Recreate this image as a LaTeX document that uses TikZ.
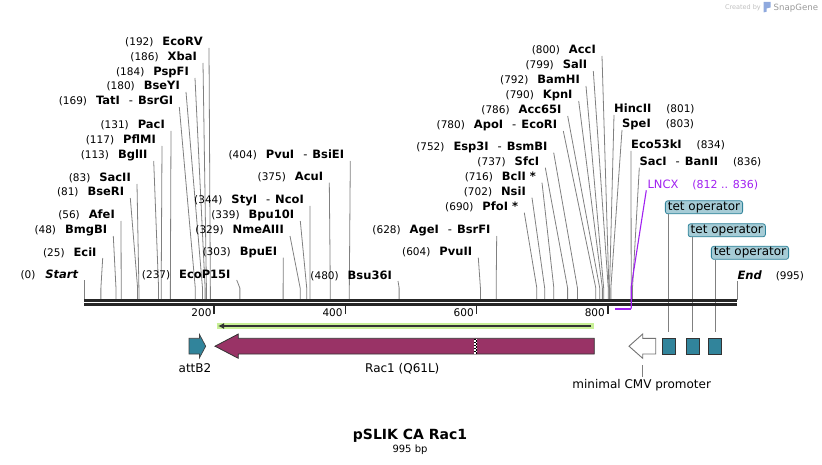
\documentclass[tikz,border=0pt]{standalone}
\usepackage{fontspec}
\setmainfont{DejaVu Sans}
\usetikzlibrary{calc,arrows.meta}
\definecolor{sitegray}{RGB}{128,128,128}
\definecolor{racfill}{RGB}{153,51,102}
\definecolor{tealfill}{RGB}{49,132,155}
\definecolor{tetlbl}{RGB}{166,204,214}
\definecolor{orfgreen}{RGB}{200,240,150}
\definecolor{lncx}{RGB}{160,32,240}
\newcommand{\enzname}[1]{{\fontsize{11.5}{13}\selectfont\bfseries #1}}
\newcommand{\andsite}{{\mdseries\hspace{9pt}-\hspace{5pt}}}

\begin{document}
\begin{tikzpicture}[x=1pt, y=-1pt,
  sitelbl/.style={inner sep=0pt, font=\fontsize{10.5}{12}\selectfont},
  siteline/.style={draw=sitegray, line width=0.8pt},
  featlbl/.style={inner sep=0pt, font=\fontsize{12}{14}\selectfont},
  tetbox/.style={draw=tealfill, fill=tetlbl, rounded corners=2.5pt, line width=0.8pt,
    inner xsep=2.5pt, inner ysep=1pt, text height=8.7pt, text depth=2.4pt,
    font=\fontsize{12}{14}\selectfont},
  featbox/.style={draw=black!80, fill=tealfill, line width=0.8pt,
    minimum width=12.8pt, minimum height=15.7pt, inner sep=0pt}]
  \useasboundingbox (0,0) rectangle (822,465);

  % Enzyme sites, left group
  \foreach \num/\nm/\ex/\ey in {192/EcoRV/203/46, 186/XbaI/197/61, 184/PspFI/189/76,
      180/BseYI/180/90, 169/TatI\andsite BsrGI/173.3/105, 131/PacI/165/129,
      117/PflMI/156/144, 113/BglII/147.7/159, 83/SacII/131/182, 81/BseRI/124.3/196,
      56/AfeI/115/219, 48/BmgBI/107.3/234, 25/EciI/96.7/256, 237/EcoP15I/230.7/278} {
    \node[sitelbl, anchor=base east] (S\num) at (\ex,\ey) {(\num)\hspace{9pt}\enzname{\nm}};
    \coordinate (B\num) at ({84.5+0.6555*\num},300);
    \draw[siteline] ($(S\num.base east)+(6,2)$) -- (B\num |- 0,288) -- (B\num);
  }

  % Enzyme sites, middle group
  \foreach \num/\nm/\ex/\ey in {404/PvuI\andsite BsiEI/344.3/159, 375/AcuI/323.3/180.7,
      344/StyI\andsite NcoI/304/204, 339/Bpu10I/294.3/219, 329/NmeAIII/284/234,
      303/BpuEI/277.3/255.7, 480/Bsu36I/392/279} {
    \node[sitelbl, anchor=base east] (S\num) at (\ex,\ey) {(\num)\hspace{9pt}\enzname{\nm}};
    \coordinate (B\num) at ({84.5+0.6555*\num},300);
    \draw[siteline] ($(S\num.base east)+(6,2)$) -- (B\num |- 0,288) -- (B\num);
  }

  % Enzyme sites, right group
  \foreach \num/\nm/\ex/\ey in {800/AccI/596/54, 799/SalI/587.3/69, 792/BamHI/580/84,
      790/KpnI/572.7/99, 786/Acc65I/561.7/114, 780/ApoI\andsite EcoRI/557.3/129,
      752/Esp3I\andsite BsmBI/547.7/150.7, 737/SfcI/539.3/165.7, 716/BclI */536/180.7,
      702/NsiI/526/195.7, 690/PfoI */518.3/210.7, 628/AgeI\andsite BsrFI/490.7/234,
      604/PvuII/472.3/255.7} {
    \node[sitelbl, anchor=base east] (S\num) at (\ex,\ey) {(\num)\hspace{9pt}\enzname{\nm}};
    \coordinate (B\num) at ({84.5+0.6555*\num},300);
    \draw[siteline] ($(S\num.base east)+(6,2)$) -- (B\num |- 0,288) -- (B\num);
  }

  % Enzyme sites with the number after the name
  \foreach \num/\nm/\ex/\ey in {801/HincII/614/113, 803/SpeI/622/128,
      834/Eco53kI/631/149, 836/SacI\andsite BanII/639.3/165.7} {
    \node[sitelbl, anchor=base west] (S\num) at (\ex,\ey) {\enzname{\nm}\hspace{15pt}(\num)};
    \coordinate (B\num) at ({84.5+0.6555*\num},300);
    \draw[siteline] ($(S\num.base west)+(0,2)$) -- (B\num |- 0,288) -- (B\num);
  }

  % Start and End
  \coordinate (B0) at (84.3,300);
  \coordinate (B995) at (737.3,300);
  \node[sitelbl, anchor=base east] (Start) at (78.3,278) {(0)\hspace{10pt}\enzname{\itshape Start}};
  \node[sitelbl, anchor=base west] (End) at (737.3,279) {\enzname{\itshape End}\hspace{14pt}(995)};
  \draw[siteline] ($(Start.base east)+(6,2)$) -- (B0);
  \draw[siteline] ($(End.base west)+(0,2)$) -- (B995);

  % tet operator labels
  \foreach \i/\fx/\cx/\cy in {1/668.5/704/207.3, 2/692.5/726.8/230.3, 3/715/750/252.8} {
    \node[featbox] (F\i) at (\fx,346.2) {};
    \node[tetbox] (TO\i) at (\cx,\cy) {tet operator};
    \draw[siteline] (F\i.north |- TO\i.south) -- ($(F\i.north)+(0,-6)$);
  }

  % Backbone
  \draw[line width=2.6pt, black!85] (B0 |- 0,300.3) -- (B995 |- 0,300.3);
  \draw[line width=2.6pt, black!85] (B0 |- 0,304.7) -- (B995 |- 0,304.7);

  % Ruler
  \foreach \tk in {200,400,600,800} {
    \coordinate (T\tk) at ({83.2+0.6555*\tk},305);
    \draw[line width=1.8pt, black!85] (T\tk) -- ++(0,8.5);
    \node[sitelbl, anchor=base east] (TL\tk) at ($(T\tk)+(-2.6,11)$) {\tk};
  }

  % LNCX
  \node[sitelbl, anchor=base west, text=lncx, font=\fontsize{11.5}{13}\selectfont] (LNCX)
    at (647.3,188.3) {LNCX\hspace{14pt}{\fontsize{11}{13}\selectfont(812 .. 836)}};
  \coordinate (L812) at ({83.2+0.6555*812},308.7);
  \coordinate (L836) at ({83.2+0.6555*836},308.7);
  \draw[lncx, line width=1.1pt] ($(LNCX.base west)+(-1,2)$) -- (L836 |- 0,287) -- (L836);
  \draw[lncx, line width=1.8pt] (L836) -- (L812);

  % ORF
  \draw[orfgreen, line width=6.6pt] (216.7,326) -- (594,326);
  \draw[black!80, line width=1.4pt, -{Latex[length=6pt,width=6pt]}] (591,326) -- (218,326);

  % attB2
  \filldraw[fill=tealfill, draw=black!75, line width=0.7pt] (189,338.3) -- (199.5,338.3)
    -- (199.5,334.5) -- (205.7,346.2) -- (199.5,357.8) -- (199.5,354) -- (189,354) -- cycle;
  \node[featlbl, anchor=base] (attB) at (195,372.7) {attB2};

  % Rac1
  \filldraw[fill=racfill, draw=black!80, line width=0.8pt] (215,346.2) -- (238.3,334)
    -- (238.3,338.3) -- (594.3,338.3) -- (594.3,354) -- (238.3,354) -- (238.3,358.3) -- cycle;
  \fill[white] (474.2,338.7) rectangle (477.2,353.6);
  \draw[black, line width=1.5pt, dash pattern=on 1.5pt off 1.5pt] (474.95,338.7) -- (474.95,353.6);
  \draw[black, line width=1.5pt, dash pattern=on 1.5pt off 1.5pt, dash phase=1.5pt] (476.45,338.7) -- (476.45,353.6);
  \node[featlbl, anchor=base] (Rac) at (402.3,372.7) {Rac1 (Q61L)};

  % minimal CMV promoter
  \filldraw[fill=white, draw=black!55, line width=0.9pt] (629,346.2) -- (642.7,334)
    -- (642.7,338.3) -- (655.7,338.3) -- (655.7,354) -- (642.7,354) -- (642.7,358.3) -- cycle;
  \coordinate (Pbot) at (642.7,358.3);
  \node[featlbl, anchor=base] (CMV) at (641.7,388.3) {minimal CMV promoter};
  \draw[siteline] ($(Pbot)+(0,7)$) -- ($(Pbot |- CMV.north)+(0,-2)$);

  % Title
  \node[inner sep=0pt, anchor=base, font=\fontsize{14}{16}\selectfont\bfseries] (title)
    at (410,439.3) {pSLIK CA Rac1};
  \node[inner sep=0pt, anchor=base, font=\fontsize{10}{12}\selectfont] (length)
    at (410,452.7) {995 bp};

  % Watermark
  \node[inner sep=0pt, anchor=base east, text=black!25, font=\fontsize{6.5}{8}\selectfont] (made)
    at (761,10) {Created by};
  \fill[cyan!45!blue!45] (763.5,1.8) -- (770.5,1.8) -- (770.5,7.5) -- (766.5,8.5)
    -- (766.5,11.7) -- (763.5,12.5) -- cycle;
  \node[inner sep=0pt, anchor=base west, text=black!40, font=\fontsize{8.6}{10}\selectfont] (sg)
    at (773.5,10.5) {SnapGene};
\end{tikzpicture}
\end{document}
